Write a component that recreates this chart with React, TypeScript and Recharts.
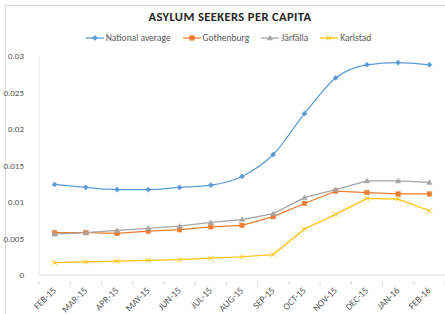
import React from 'react';
import { LineChart, Line, XAxis, YAxis } from 'recharts';

const months = ['FEB-15', 'MAR-15', 'APR-15', 'MAY-15', 'JUN-15', 'JUL-15', 'AUG-15', 'SEP-15', 'OCT-15', 'NOV-15', 'DEC-15', 'JAN-16', 'FEB-16'];
const nationalAverage = [0.0124, 0.0120, 0.0117, 0.0117, 0.0120, 0.0123, 0.0135, 0.0165, 0.0221, 0.0270, 0.0288, 0.0291, 0.0288];
const gothenburg = [0.0058, 0.0058, 0.0057, 0.0060, 0.0062, 0.0066, 0.0068, 0.0080, 0.0098, 0.0115, 0.0113, 0.0111, 0.0111];
const jarfalla = [0.0056, 0.0058, 0.0061, 0.0064, 0.0067, 0.0072, 0.0076, 0.0084, 0.0106, 0.0117, 0.0129, 0.0129, 0.0127];
const karlstad = [0.0017, 0.0018, 0.0019, 0.0020, 0.0021, 0.0023, 0.0025, 0.0028, 0.0063, 0.0083, 0.0105, 0.0104, 0.0088];
const yTicks = [0, 0.005, 0.01, 0.015, 0.02, 0.025, 0.03];
const seriesNames = ['National average', 'Gothenburg', 'Järfälla', 'Karlstad'];

const COLORS = ['#5B9BD5', '#ED7D31', '#A5A5A5', '#FFC000'];
const FONT = "Carlito, 'Liberation Sans Narrow', 'Open Sans', sans-serif";
const TEXT = '#595959';

const data = months.map((m, i) => ({
  month: m,
  national: nationalAverage[i],
  gothenburg: gothenburg[i],
  jarfalla: jarfalla[i],
  karlstad: karlstad[i],
}));

type Shape = 'diamond' | 'square' | 'triangle' | 'x';

const Marker = ({ cx, cy, color, shape }: { cx: number; cy: number; color: string; shape: Shape }) => {
  if (cx == null || cy == null) return null;
  if (shape === 'diamond') {
    return <path d={`M${cx},${cy - 2.6} L${cx + 2.6},${cy} L${cx},${cy + 2.6} L${cx - 2.6},${cy} Z`} fill={color} stroke={color} strokeWidth={0.5} />;
  }
  if (shape === 'square') {
    return <rect x={cx - 2.3} y={cy - 2.3} width={4.6} height={4.6} fill={color} stroke={color} strokeWidth={0.4} />;
  }
  if (shape === 'triangle') {
    return <path d={`M${cx},${cy - 2.8} L${cx + 2.8},${cy + 2.1} L${cx - 2.8},${cy + 2.1} Z`} fill={color} stroke={color} strokeWidth={0.4} />;
  }
  return (
    <g stroke={color} strokeWidth={0.9}>
      <line x1={cx - 2.4} y1={cy - 2.4} x2={cx + 2.4} y2={cy + 2.4} />
      <line x1={cx - 2.4} y1={cy + 2.4} x2={cx + 2.4} y2={cy - 2.4} />
    </g>
  );
};

const makeDot = (color: string, shape: Shape) => (props: any) => (
  <Marker key={`${shape}-${props.index}`} cx={props.cx} cy={props.cy} color={color} shape={shape} />
);

const CAT_W = 406 / 13;

const XTick = (props: any) => {
  const { x, y, payload, index } = props;
  return (
    <g>
      <line x1={x - CAT_W / 2} y1={y - 8} x2={x - CAT_W / 2} y2={y - 4} stroke="#D9D9D9" />
      {index === months.length - 1 && (
        <line x1={x + CAT_W / 2} y1={y - 8} x2={x + CAT_W / 2} y2={y - 4} stroke="#D9D9D9" />
      )}
      <text
        x={x + 2}
        y={y + 2}
        transform={`rotate(-45, ${x + 2}, ${y + 2})`}
        textAnchor="end"
        fontSize={9.5}
        fill={TEXT}
        fontFamily={FONT}
      >
        {payload.value}
      </text>
    </g>
  );
};

const YTick = (props: any) => {
  const { x, y, payload } = props;
  return (
    <text x={x} y={y + 3} textAnchor="end" fontSize={9} fill={TEXT} fontFamily={FONT}>
      {String(payload.value)}
    </text>
  );
};

const shapes: Shape[] = ['diamond', 'square', 'triangle', 'x'];

const LegendItem = ({ name, color, shape }: { name: string; color: string; shape: Shape }) => (
  <div style={{ display: 'flex', alignItems: 'center', marginRight: 12 }}>
    <svg width={18} height={10} style={{ marginRight: 2 }}>
      <line x1={0} y1={5} x2={18} y2={5} stroke={color} strokeWidth={1.25} />
      <Marker cx={9} cy={5} color={color} shape={shape} />
    </svg>
    <span>{name}</span>
  </div>
);

export default function App() {
  return (
    <div style={{ position: 'absolute', left: 0, top: 0, width: 445, height: 314, background: '#fff', overflow: 'hidden' }}>
      <div style={{ position: 'absolute', left: 5, top: 5, width: 460, height: 330, border: '1px solid #D9D9D9', boxSizing: 'border-box' }} />
      <div
        style={{
          position: 'absolute',
          left: 0,
          top: 9,
          width: 460,
          textAlign: 'center',
          fontFamily: FONT,
          fontWeight: 'bold',
          fontSize: 12.5,
          letterSpacing: 0.4,
          color: '#262626',
        }}
      >
        ASYLUM SEEKERS PER CAPITA
      </div>
      <div
        style={{
          position: 'absolute',
          left: 12,
          top: 32,
          width: 445,
          display: 'flex',
          justifyContent: 'center',
          fontFamily: FONT,
          fontSize: 9.5,
          color: TEXT,
        }}
      >
        {seriesNames.map((n, i) => (
          <LegendItem key={n} name={n} color={COLORS[i]} shape={shapes[i]} />
        ))}
      </div>
      <div style={{ position: 'absolute', left: 0, top: 0 }}>
        <LineChart width={445} height={314} data={data} margin={{ top: 56, right: 0, bottom: 0, left: 0 }}>
          <XAxis
            dataKey="month"
            height={39}
            interval={0}
            padding={{ left: CAT_W / 2, right: CAT_W / 2 }}
            axisLine={{ stroke: '#D9D9D9' }}
            tickLine={false}
            tick={<XTick />}
            tickMargin={8}
          />
          <YAxis
            width={39}
            domain={[0, 0.03]}
            ticks={yTicks}
            interval={0}
            axisLine={{ stroke: '#E6E6E6' }}
            tickLine={false}
            tickMargin={9}
            tick={<YTick />}
          />
          <Line type="monotone" dataKey="national" name={seriesNames[0]} stroke={COLORS[0]} strokeWidth={1.25} dot={makeDot(COLORS[0], 'diamond')} isAnimationActive={false} />
          <Line type="linear" dataKey="gothenburg" name={seriesNames[1]} stroke={COLORS[1]} strokeWidth={1.25} dot={makeDot(COLORS[1], 'square')} isAnimationActive={false} />
          <Line type="linear" dataKey="jarfalla" name={seriesNames[2]} stroke={COLORS[2]} strokeWidth={1.25} dot={makeDot(COLORS[2], 'triangle')} isAnimationActive={false} />
          <Line type="linear" dataKey="karlstad" name={seriesNames[3]} stroke={COLORS[3]} strokeWidth={1.25} dot={makeDot(COLORS[3], 'x')} isAnimationActive={false} />
        </LineChart>
      </div>
    </div>
  );
}
